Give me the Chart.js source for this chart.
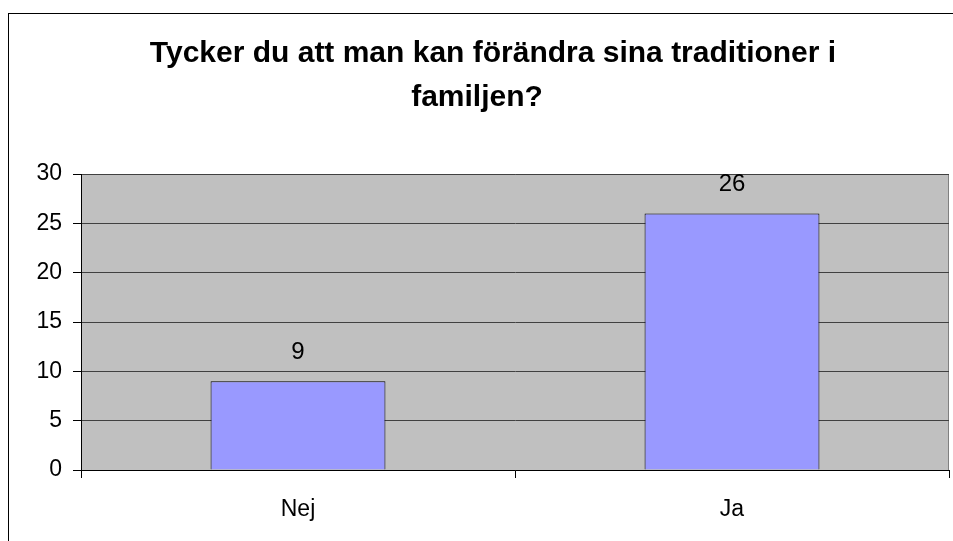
<!DOCTYPE html>
<html>
<head>
<meta charset="utf-8">
<script src="https://cdn.jsdelivr.net/npm/chart.js@4/dist/chart.umd.min.js"></script>
<style>
html,body{margin:0;padding:0;background:#fff;}
#wrap{width:953px;height:541px;position:relative;}
</style>
</head>
<body>
<div id="wrap"><canvas id="c" width="953" height="541"></canvas></div>
<script>
const titleLines = ["Tycker du att man kan förändra sina traditioner i", "familjen?"];
const categories = ["Nej", "Ja"];
const values = [9, 26];
const yTicks = [0, 5, 10, 15, 20, 25, 30];

const FONT = "'Liberation Sans', Arial, sans-serif";

const framePlugin = {
  id: 'frame',
  beforeDraw(chart) {
    const ctx = chart.ctx;
    const a = chart.chartArea;
    ctx.save();
    ctx.fillStyle = '#ffffff';
    ctx.fillRect(0, 0, chart.width, chart.height);
    ctx.strokeStyle = '#000000';
    ctx.lineWidth = 1;
    ctx.strokeRect(8.5, 13.5, 1200, 1200);
    ctx.fillStyle = '#C0C0C0';
    ctx.fillRect(a.left, a.top, a.right - a.left, a.bottom - a.top);
    ctx.strokeStyle = '#808080';
    ctx.beginPath();
    ctx.moveTo(a.left, a.top + 0.5);
    ctx.lineTo(a.right - 0.5, a.top + 0.5);
    ctx.lineTo(a.right - 0.5, a.bottom);
    ctx.stroke();
    // title
    ctx.fillStyle = '#000';
    ctx.font = "bold 30px " + FONT;
    ctx.textAlign = 'center';
    ctx.textBaseline = 'alphabetic';
    ctx.fillText(titleLines[0], 493, 62);
    ctx.fillText(titleLines[1], 477, 106);
    ctx.restore();
  },
  afterDatasetsDraw(chart) {
    const ctx = chart.ctx;
    const meta = chart.getDatasetMeta(0);
    ctx.save();
    ctx.fillStyle = '#000';
    ctx.font = "24px " + FONT;
    ctx.textAlign = 'center';
    ctx.textBaseline = 'middle';
    meta.data.forEach((bar, i) => {
      ctx.fillText(String(chart.data.datasets[0].data[i]), bar.x, bar.y - 29);
    });
    ctx.restore();
  }
};

new Chart(document.getElementById('c'), {
  type: 'bar',
  data: {
    labels: categories,
    datasets: [{
      data: values,
      backgroundColor: '#9999FF',
      borderColor: '#000000',
      borderWidth: 1,
      borderSkipped: 'bottom',
      categoryPercentage: 1,
      barPercentage: 0.403
    }]
  },
  options: {
    responsive: false,
    animation: false,
    layout: { padding: { left: 0, right: 4, top: 174, bottom: 0 } },
    plugins: { legend: { display: false }, title: { display: false }, tooltip: { enabled: false } },
    scales: {
      x: {
        afterFit(s) { s.height = 71; },
        grid: { display: true, drawOnChartArea: false, drawTicks: true, tickLength: 8, color: '#000', offset: true },
        border: { display: true, color: '#000', width: 1 },
        ticks: { color: '#000', font: { family: FONT, size: 23 }, padding: 18 }
      },
      y: {
        min: 0, max: 30,
        afterFit(s) { s.width = 81; },
        afterBuildTicks(s) { s.ticks = yTicks.map(v => ({ value: v })); },
        grid: { color: '#404040', lineWidth: 1, tickLength: 8, drawTicks: true, tickColor: '#000' },
        border: { display: true, color: '#000', width: 1 },
        ticks: { color: '#000', font: { family: FONT, size: 23 }, padding: 11 }
      }
    }
  },
  plugins: [framePlugin]
});
</script>
</body>
</html>
